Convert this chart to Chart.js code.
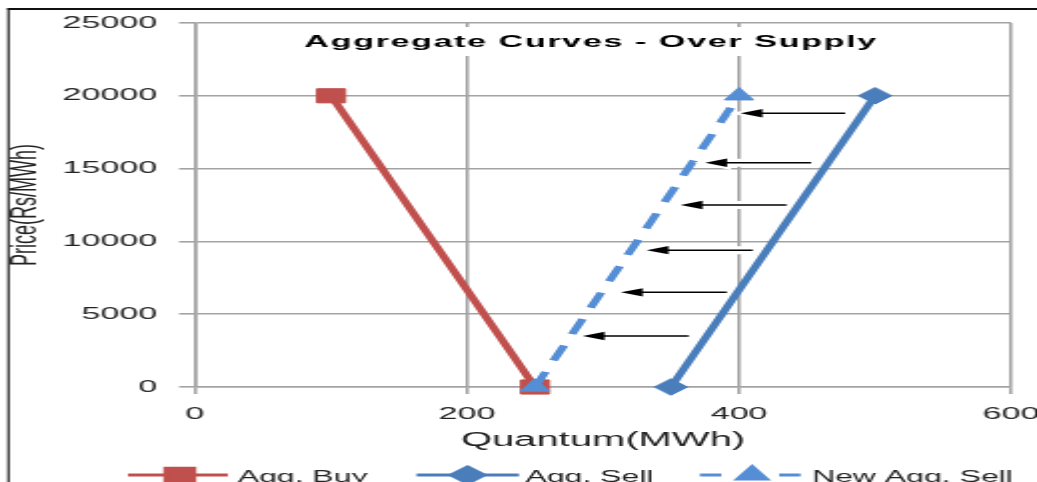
<!DOCTYPE html>
<html><head><meta charset="utf-8">
<script src="https://cdn.jsdelivr.net/npm/chart.js@4.4.1/dist/chart.umd.min.js"></script>
<style>
html,body{margin:0;padding:0;background:#fff;overflow:hidden;}
#c{display:block;width:1037px !important;height:482px !important;}
</style></head><body>
<canvas id="c" width="519" height="482" style="width:1037px;height:482px"></canvas>
<script>
const titleText = 'Aggregate Curves - Over Supply';
const xTitle = 'Quantum(MWh)';
const yTitle = 'Price(Rs/MWh)';
const seriesNames = ['Agg. Buy', 'Agg. Sell', 'New Agg. Sell'];
const buyQty = [100, 250];
const buyPrice = [20000, 0];
const sellQty = [350, 500];
const sellPrice = [0, 20000];
const newSellQty = [250, 400];
const newSellPrice = [0, 20000];
const xTicks = [0, 200, 400, 600];
const yTicks = [0, 5000, 10000, 15000, 20000, 25000];
const arrowPrice = [18800, 15400, 12500, 9400, 6500, 3500];
const arrowFromQty = [478, 453, 435, 410, 391, 363];
const arrowToQty = [401, 375, 357, 332, 313, 285];

const FONT = 'Liberation Sans, Arial, sans-serif';
const GRID = '#a3a3a3';
const TXT = '#222';
const RED = '#C0504D', BLUE = '#4A7EBB', LBLUE = '#558ED5';

const pts = (xs, ys) => xs.map((x, i) => ({x: x, y: ys[i]}));

const overlay = {
  id: 'overlay',
  afterDatasetsDraw(chart) {
    const ctx = chart.ctx, xs = chart.scales.x, ys = chart.scales.y;
    ctx.save();
    // arrows
    for (let i = 0; i < arrowPrice.length; i++) {
      const y = ys.getPixelForValue(arrowPrice[i]);
      const x1 = xs.getPixelForValue(arrowFromQty[i]);
      const x2 = xs.getPixelForValue(arrowToQty[i]);
      const hl = 11, hw = 4.2;
      ctx.lineCap = 'butt';
      ctx.strokeStyle = '#fff'; ctx.lineWidth = 8;
      ctx.beginPath(); ctx.moveTo(x1, y); ctx.lineTo(x2 + hl, y); ctx.stroke();
      ctx.beginPath(); ctx.moveTo(x2, y); ctx.lineTo(x2 + hl, y - hw); ctx.lineTo(x2 + hl, y + hw); ctx.closePath();
      ctx.lineWidth = 4; ctx.stroke();
      ctx.strokeStyle = '#000'; ctx.lineWidth = 1.5;
      ctx.beginPath(); ctx.moveTo(x1, y); ctx.lineTo(x2 + hl - 1, y); ctx.stroke();
      ctx.fillStyle = '#000';
      ctx.beginPath(); ctx.moveTo(x2, y); ctx.lineTo(x2 + hl, y - hw); ctx.lineTo(x2 + hl, y + hw); ctx.closePath(); ctx.fill();
    }
    // title
    ctx.font = 'bold 17px ' + FONT;
    const raw = ctx.measureText(titleText).width;
    ctx.letterSpacing = ((286 - raw) / (titleText.length - 1)).toFixed(2) + 'px';
    const w = ctx.measureText(titleText).width;
    const cx = (chart.chartArea.left + chart.chartArea.right) / 2 - 6;
    ctx.fillStyle = '#fff';
    ctx.fillRect(cx - w / 2 - 4, 27, w + 8, 29);
    ctx.fillStyle = '#000';
    ctx.textAlign = 'center'; ctx.textBaseline = 'alphabetic';
    ctx.fillText(titleText, cx, 47);
    ctx.restore();
  },
  afterDraw(chart) {
    const ctx = chart.ctx;
    ctx.save();
    // frame
    ctx.fillStyle = '#111';
    ctx.fillRect(3.7, 8, 520, 2);
    ctx.fillRect(3.7, 8, 1.1, 480);
    // legend
    const items = [
      {ls: 64, le: 114, m: 90, t: 119, r: 9.5},
      {ls: 208.5, le: 259.7, m: 234, t: 263, r: 8},
      {ls: 350.3, le: 401, m: 376.4, t: 406.4, r: 8}
    ];
    const ly = 475;
    chart.data.datasets.forEach((ds, i) => {
      const it = items[i];
      ctx.strokeStyle = ds.borderColor; ctx.lineWidth = 3;
      ctx.setLineDash(ds.borderDash && ds.borderDash.length ? [10.7, 29] : []);
      ctx.beginPath(); ctx.moveTo(it.ls, ly); ctx.lineTo(it.le, ly); ctx.stroke();
      ctx.setLineDash([]);
      ctx.fillStyle = ds.pointBackgroundColor; ctx.strokeStyle = ds.pointBorderColor;
      Chart.helpers.drawPoint(ctx, {pointStyle: ds.pointStyle, radius: it.r, rotation: 0, borderWidth: 1}, it.m, ly);
      ctx.fillStyle = TXT; ctx.font = '16px ' + FONT;
      ctx.textAlign = 'left'; ctx.textBaseline = 'alphabetic';
      ctx.fillText(ds.label, it.t, 481.5);
    });
    ctx.restore();
  }
};

new Chart(document.getElementById('c'), {
  type: 'line',
  data: {
    datasets: [
      {label: seriesNames[0], data: pts(buyQty, buyPrice), borderColor: RED, backgroundColor: RED,
       pointBackgroundColor: RED, pointBorderColor: RED, pointStyle: 'rect', pointRadius: 10, pointBorderWidth: 1,
       borderWidth: 4.3, order: 2, clip: false},
      {label: seriesNames[1], data: pts(sellQty, sellPrice), borderColor: BLUE, backgroundColor: BLUE,
       pointBackgroundColor: BLUE, pointBorderColor: BLUE, pointStyle: 'rectRot', pointRadius: 8.3, pointBorderWidth: 1,
       borderWidth: 4.3, order: 1, clip: false},
      {label: seriesNames[2], data: pts(newSellQty, newSellPrice), borderColor: LBLUE, backgroundColor: LBLUE,
       pointBackgroundColor: LBLUE, pointBorderColor: LBLUE, pointStyle: 'triangle', pointRadius: 8.3, pointBorderWidth: 1,
       borderWidth: 4.3, borderDash: [16, 12], order: 0, clip: false}
    ]
  },
  options: {
    responsive: false, animation: false, devicePixelRatio: 1,
    layout: {padding: {left: 0, right: 13, top: 23, bottom: 0}},
    plugins: {legend: {display: false}, title: {display: false}, tooltip: {enabled: false}},
    elements: {line: {tension: 0}},
    scales: {
      x: {
        type: 'linear', min: xTicks[0], max: xTicks[xTicks.length - 1],
        afterBuildTicks: s => { s.ticks = xTicks.map(v => ({value: v})); },
        afterFit: s => { s.height = 95; s.paddingLeft = 0; s.paddingRight = 0; },
        grid: {color: GRID, lineWidth: 1.6, tickLength: 7, drawTicks: true},
        border: {color: GRID, width: 1.6},
        ticks: {font: {family: FONT, size: 17}, color: TXT, padding: 10, maxRotation: 0, autoSkip: false, callback: v => String(v)},
        title: {display: true, text: xTitle, font: {family: FONT, size: 20}, color: TXT, padding: {top: 0, bottom: 30}}
      },
      y: {
        type: 'linear', min: yTicks[0], max: yTicks[yTicks.length - 1],
        afterBuildTicks: s => { s.ticks = yTicks.map(v => ({value: v})); },
        afterFit: s => { s.width = 97.6; s.paddingTop = 0; s.paddingBottom = 0; },
        grid: {color: GRID, lineWidth: 1.6, tickLength: 8, drawTicks: true},
        border: {color: GRID, width: 1.6},
        ticks: {font: {family: FONT, size: 17}, color: TXT, padding: 11, autoSkip: false, callback: v => String(v)},
        title: {display: true, text: yTitle, font: {family: FONT, size: 18}, color: TXT, padding: {top: 2.2, bottom: 0}}
      }
    }
  },
  plugins: [overlay]
});
</script>
</body></html>
